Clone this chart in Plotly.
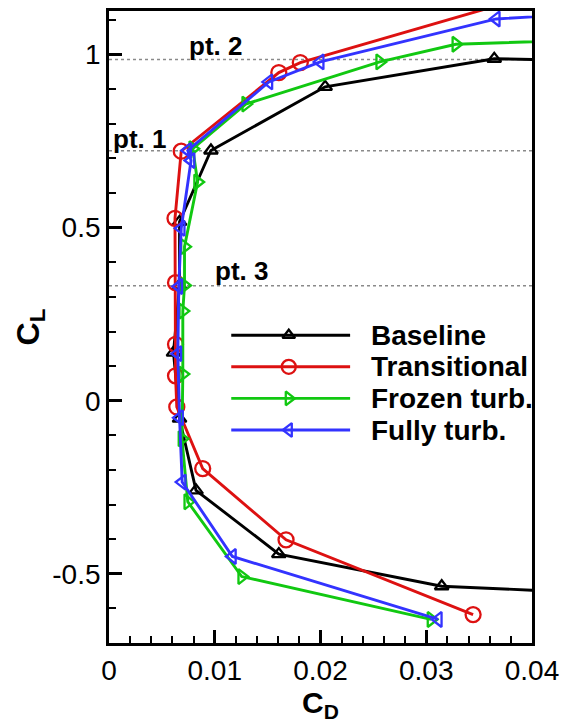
import plotly.graph_objects as go

# Drag polar: lift coefficient C_L against drag coefficient C_D
SERIES_NAMES = ["Baseline", "Transitional", "Frozen turb.", "Fully turb."]

BASELINE_CD = [0.050, 0.03146, 0.01606, 0.00823, 0.00667, 0.0061, 0.00667, 0.00667, 0.00964, 0.02044, 0.03643, 0.050]
BASELINE_CL = [-0.561, -0.536, -0.443, -0.259, -0.052, 0.139, 0.333, 0.517, 0.723, 0.907, 0.988, 0.980]

TRANS_CD = [0.03443, 0.01674, 0.00886, 0.00641, 0.00629, 0.00629, 0.00629, 0.00624, 0.00683, 0.01606, 0.01809, 0.045]
TRANS_CL = [-0.618, -0.402, -0.196, -0.018, 0.072, 0.163, 0.341, 0.527, 0.721, 0.948, 0.977, 1.215]

FROZEN_CD = [0.03045, 0.01255, 0.00745, 0.0069, 0.00698, 0.00698, 0.00714, 0.00714, 0.00838, 0.00792, 0.01293, 0.0256, 0.0328, 0.050]
FROZEN_CL = [-0.632, -0.508, -0.292, -0.110, 0.077, 0.259, 0.333, 0.445, 0.632, 0.728, 0.857, 0.979, 1.030, 1.047]

FULLY_CD = [0.03114, 0.01167, 0.00692, 0.00667, 0.00651, 0.0066, 0.00683, 0.00776, 0.00745, 0.01512, 0.01997, 0.03662, 0.050]
FULLY_CL = [-0.632, -0.450, -0.235, -0.049, 0.136, 0.330, 0.498, 0.694, 0.723, 0.921, 0.979, 1.103, 1.127]

# Operating points marked by horizontal dotted lines
REF_LABELS = ["pt. 1", "pt. 2", "pt. 3"]
REF_CL = [0.722, 0.986, 0.332]

X_TICKS = [0, 0.01, 0.02, 0.03, 0.04]
X_TICK_TEXT = ["0", "0.01", "0.02", "0.03", "0.04"]
Y_TICKS = [-0.5, 0, 0.5, 1]
Y_TICK_TEXT = ["-0.5", "0", "0.5", "1"]

FONT = "Liberation Sans, Arial, Helvetica, sans-serif"
COLORS = ["#000000", "#dd1111", "#11c811", "#3333ff"]
SYMBOLS = ["triangle-up-open", "circle-open", "triangle-right-open", "triangle-left-open"]
MSIZE = [12, 15, 13, 13]

data = [
    (BASELINE_CD, BASELINE_CL),
    (TRANS_CD, TRANS_CL),
    (FROZEN_CD, FROZEN_CL),
    (FULLY_CD, FULLY_CL),
]

fig = go.Figure()

# reference lines first so the curves sit on top
for cl in REF_CL:
    fig.add_shape(type="line", xref="paper", x0=0, x1=1, yref="y", y0=cl, y1=cl,
                  line=dict(color="#8a8a8a", width=1.5, dash="dot"), layer="below")

for name, (cd, cl), col, sym, ms in zip(SERIES_NAMES, data, COLORS, SYMBOLS, MSIZE):
    fig.add_trace(go.Scatter(
        x=cd, y=cl, mode="lines+markers", name=name, showlegend=False,
        line=dict(color=col, width=2.9),
        marker=dict(symbol=sym, size=ms, color=col, line=dict(color=col, width=2.3)),
    ))

# hand-built legend on an overlay axis spanning [0, 1]
leg_top, leg_step = 0.487, 0.050
leg_x0, leg_x1, leg_xm, leg_xt = 0.289, 0.570, 0.425, 0.615
for i, (name, col, sym, ms) in enumerate(zip(SERIES_NAMES, COLORS, SYMBOLS, MSIZE)):
    yy = leg_top - i * leg_step
    fig.add_trace(go.Scatter(
        x=[leg_x0, leg_x1], y=[yy, yy], mode="lines", xaxis="x2", yaxis="y2",
        line=dict(color=col, width=2.9), showlegend=False, hoverinfo="skip"))
    fig.add_trace(go.Scatter(
        x=[leg_xm], y=[yy], mode="markers", xaxis="x2", yaxis="y2",
        marker=dict(symbol=sym, size=ms - 1, color=col, line=dict(color=col, width=2.3)),
        showlegend=False, hoverinfo="skip"))
    fig.add_annotation(x=leg_xt, y=yy, xref="x2", yref="y2", text="<b>%s</b>" % name,
                       showarrow=False, xanchor="left", yanchor="middle",
                       font=dict(family=FONT, size=28, color="black"))

# operating point labels
label_pos = {"pt. 1": (0.0029, 0.756), "pt. 2": (0.01005, 1.026), "pt. 3": (0.0125, 0.376)}
for lab in REF_LABELS:
    x, y = label_pos[lab]
    fig.add_annotation(x=x, y=y, text="<b>%s</b>" % lab, showarrow=False,
                       xanchor="center", yanchor="middle",
                       font=dict(family=FONT, size=26, color="black"))

axis_common = dict(
    showgrid=False, zeroline=False, showline=True, mirror=True,
    linecolor="black", linewidth=2.8,
    ticks="inside", ticklen=13, tickwidth=2.8, tickcolor="black",
    tickfont=dict(family=FONT, size=28, color="black"),
)

fig.update_layout(
    width=567, height=724,
    margin=dict(l=109, r=32, t=8, b=81),
    paper_bgcolor="white", plot_bgcolor="white",
    xaxis=dict(range=[0, 0.04], tickvals=X_TICKS, ticktext=X_TICK_TEXT,
               minor=dict(dtick=0.002, ticks="inside", ticklen=7, tickwidth=1.5, tickcolor="black"),
               title=dict(text="<b>C<sub>D</sub></b>", standoff=2,
                          font=dict(family=FONT, size=30, color="black")),
               **axis_common),
    yaxis=dict(range=[-0.7, 1.126], tickvals=Y_TICKS, ticktext=Y_TICK_TEXT,
               minor=dict(dtick=0.1, tick0=0, ticks="inside", ticklen=7, tickwidth=1.5, tickcolor="black"),
               title=dict(text="<b>C<sub>L</sub></b>", standoff=4,
                          font=dict(family=FONT, size=32, color="black")),
               **axis_common),
    xaxis2=dict(range=[0, 1], overlaying="x", visible=False, fixedrange=True),
    yaxis2=dict(range=[0, 1], overlaying="y", visible=False, fixedrange=True),
    showlegend=False,
)

fig.write_html("out.html")
